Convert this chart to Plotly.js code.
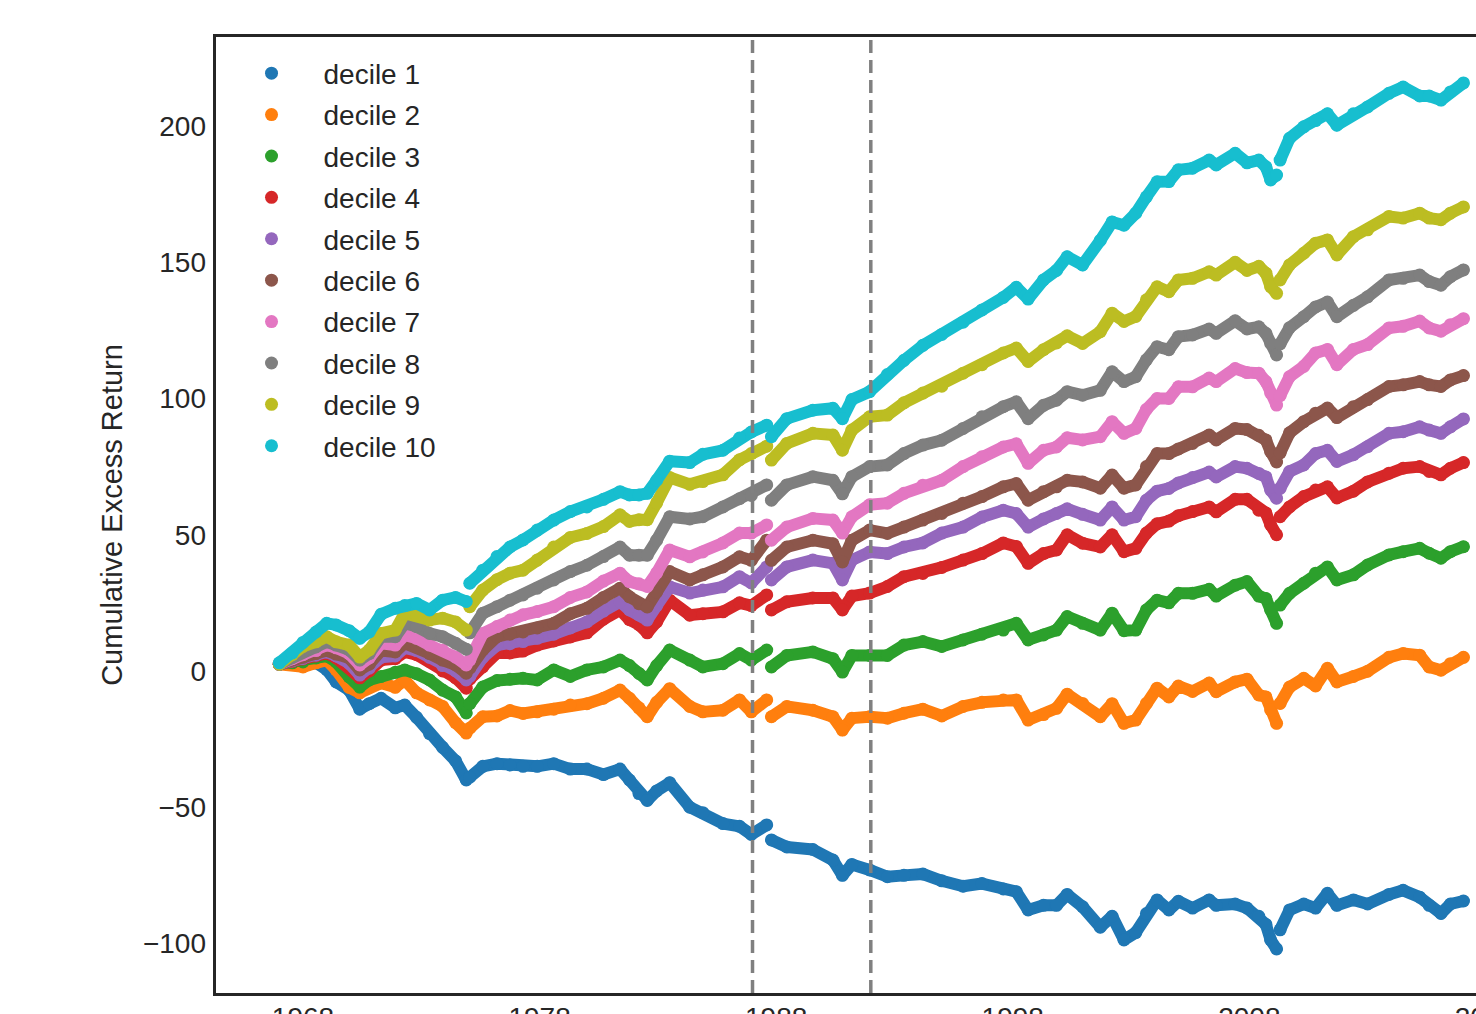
<!DOCTYPE html>
<html>
<head>
<meta charset="utf-8">
<script src="https://cdn.plot.ly/plotly-3.0.1.min.js"></script>
<style>
  html, body { margin: 0; padding: 0; overflow: hidden; background: #fff; }
  #chart { width: 1560px; height: 1060px; }
  .scatterlayer path.js-line { stroke-linejoin: round !important; stroke-linecap: round !important; }
</style>
</head>
<body>
<div id="chart"></div>
<script>
// Dates as decimal years (null rows mark jumps where the dots separate)
const years = [1967.0, 1967.55, 1968.0, 1968.55, 1969.0, 1969.4, 1969.95, 1970.4, 1970.8, 1971.3,
  1971.9, 1972.3, 1972.8, 1973.35, 1973.9, 1974.45, 1974.9, 1974.97, 1975.05, 1975.6,
  1976.2, 1976.75, 1977.3, 1977.9, 1978.6, 1979.3, 1980.0, 1980.7, 1981.4, 1981.8,
  1982.2, 1982.55, 1982.95, 1983.5, 1984.35, 1984.9, 1985.75, 1986.45, 1986.95, 1987.6,
  1987.7, 1987.8, 1988.45, 1989.55, 1990.4, 1990.8, 1991.2, 1991.95, 1992.7, 1993.4,
  1994.2, 1995.0, 1995.9, 1996.7, 1997.6, 1998.15, 1998.65, 1999.3, 1999.85, 2000.3,
  2000.95, 2001.7, 2002.2, 2002.7, 2003.2, 2003.65, 2004.1, 2004.6, 2005.0, 2005.6,
  2006.3, 2006.6, 2007.4, 2007.9, 2008.4, 2008.7, 2008.9, 2009.15, 2009.22, 2009.3,
  2009.7, 2010.3, 2010.8, 2011.3, 2011.7, 2012.4, 2013.0, 2013.9, 2014.5, 2015.2,
  2015.6, 2016.1, 2016.5, 2017.05];

const decile1 = [2.5, 3, 2, 3, 0.5, -4, -7, -14, -12, -10,
  -13.5, -12.5, -17, -23, -28, -33, -40, null, -39, -35,
  -34, -34.5, -35, -35, -34, -36, -36, -38, -36, -40,
  -45, -47.5, -44, -41, -50, -52, -56, -57, -60, -56.5,
  null, -62, -64.6, -65.5, -69.4, -75, -71, -73, -75.5, -75,
  -74.5, -77, -79, -78, -80, -81, -87.7, -86, -86, -82,
  -86.5, -94, -90, -98.7, -96, -89, -84, -87.7, -84.5, -87,
  -84, -86, -85.5, -87, -90, -93, -98.7, -102, null, -95,
  -87.7, -85.5, -87, -81.6, -86, -84, -85.5, -82, -80.5, -83,
  -86, -89, -85.5, -84.4];
const decile2 = [2.5, 2.5, 1.5, 3, 4, 0.4, -6, -8, -6, -4.4,
  -6, -3.3, -8, -10.6, -13, -19, -22.8, null, -21, -16.8,
  -16.5, -14.5, -15.6, -15, -14, -12.5, -12, -10, -7, -10,
  -13.5, -16.8, -11.5, -6.5, -13, -15, -14.4, -10.6, -15, -10.6,
  null, -16.8, -13, -14.4, -16.8, -21.7, -17.3, -16.8, -17.3, -15.5,
  -14, -16.5, -13, -11.5, -10.6, -10.6, -18, -16, -13.7, -8.5,
  -11.9, -16.8, -12, -19.2, -18, -11.9, -6.3, -9.5, -5.5, -7.5,
  -4.4, -7.6, -4, -3, -8.8, -9.5, -14.3, -19.2, null, -11.9,
  -5.9, -2.7, -5.5, 1, -4, -2, -0.1, 5, 6.4, 5.8,
  1.5, 0.3, 2.7, 5];
const decile3 = [2.5, 3, 3.3, 4.8, 5.5, 3.3, -2.2, -5.9, -3.3, -2,
  -0.5, 0.4, -1, -3.3, -7, -9.5, -15.4, null, -12, -5.9,
  -3.5, -3, -2.7, -3.3, 0.4, -2, 0.4, 1.5, 4, 2,
  -0.9, -3.3, 2, 7.7, 4, 1.5, 2.7, 6.4, 4, 7.7,
  null, 1.5, 5.7, 7, 4.5, -0.4, 5.7, 5.7, 5.7, 9.5,
  10.8, 9, 11.4, 13.5, 15, 17.5, 11.4, 13.2, 15, 20,
  17.5, 15, 21.2, 14.8, 15, 22.4, 26, 25, 28.5, 28.5,
  30, 27.5, 31.5, 32.8, 27.5, 26.6, 22.4, 17.5, null, 24.2,
  28.5, 32.2, 35.9, 38.2, 33.4, 35.3, 38.9, 42.6, 43.8, 45,
  43.2, 41.4, 43.8, 45.6];
const decile4 = [2.5, 3.5, 4.4, 5.5, 6.5, 4.8, 1.5, -2.5, 0, 4,
  4.5, 7, 6, 3.5, 0, -2.5, -6.3, null, -3, 1.5,
  6.6, 6.6, 7.3, 9.5, 11, 12.5, 14, 19, 22.4, 18.8,
  17, 14, 18, 26, 20.5, 21, 21.7, 25, 24, 27.9,
  null, 22.4, 25.4, 26.8, 26.8, 22.4, 27.5, 28.6, 31, 34.6,
  35.8, 38, 40.7, 43.1, 47, 45.7, 39.5, 43.1, 44.4, 50,
  46.9, 45.5, 50, 43.8, 45, 50.6, 54, 55, 57, 58.5,
  60.2, 58.4, 63, 63, 59, 58, 53.6, 50, null, 56.6,
  60.2, 64, 66.4, 67.6, 63.5, 66, 69.4, 72.6, 74.4, 75,
  73.2, 72, 74.4, 76.5];
const decile5 = [2.5, 3.7, 4.6, 5.8, 7, 5.5, 2.8, -1.5, 1, 5,
  5.5, 8.5, 7.5, 5, 2, 0, -3.3, null, -2, 5,
  9.5, 10, 10.8, 12, 13.5, 15.8, 18, 22, 25.4, 22.4,
  20.6, 18.7, 24, 30.9, 28.6, 29.7, 30.9, 34.6, 32.3, 38.2,
  null, 33.4, 38.2, 40.7, 39.5, 33.4, 40.7, 43.7, 43.1, 45.5,
  47, 50.6, 52.8, 56.5, 59, 57.8, 52.8, 55.8, 57.8, 59.5,
  57.5, 55.4, 60.2, 55.4, 56.6, 62.7, 66, 67, 69, 71,
  73, 71.2, 75, 74.4, 72.5, 71.2, 66.4, 63.4, null, 67,
  73.2, 75.6, 79.8, 81, 76.9, 79.4, 82.3, 87.2, 87.8, 89.6,
  88.4, 87.2, 89.6, 92.5];
const decile6 = [2.5, 4, 5, 6.4, 7.5, 6.2, 4.8, 0.4, 2.5, 7.5,
  7, 10.2, 8.8, 6.4, 4, 2.2, -0.8, null, 1, 7.7,
  12.6, 13.5, 14.3, 15.8, 17.5, 21, 23, 27, 30.4, 27.2,
  24.7, 23.5, 29, 36.5, 33.4, 35.3, 38.2, 41.9, 40.6, 48,
  null, 40.6, 45.5, 48, 46.7, 40, 48, 51.7, 50.5, 52.8,
  55.4, 57.8, 61.6, 64, 67.6, 68.8, 62.7, 65.8, 67.6, 70,
  69.4, 67.1, 71.9, 67.1, 68.3, 75, 79.8, 79.8, 81.5, 83.5,
  86.6, 84.8, 89, 88.6, 86.5, 84.8, 80.5, 76.7, null, 80,
  87.4, 91.5, 94.6, 96.5, 93, 97, 99.6, 104.4, 105, 106.2,
  105, 104.4, 106.8, 108.4];
const decile7 = [2.5, 4.5, 6, 7.5, 9.5, 8.5, 6.4, 2.2, 4.8, 10.2,
  9.5, 13.2, 12, 9.5, 7.7, 5.1, 2.2, null, 4, 13.8,
  16.3, 18.7, 20.6, 21.8, 23.6, 27, 29, 33, 35.9, 32.8,
  32, 31, 36, 44.4, 41.9, 43.7, 47, 50.6, 50.6, 53.6,
  null, 48, 52.8, 56, 55.4, 50.6, 56.6, 61, 61.6, 65.2,
  68.2, 70, 75, 78.6, 82.2, 83.4, 76.2, 81, 82.2, 85.6,
  84.8, 86, 91.5, 87.2, 89, 96, 100, 100, 104.3, 104.3,
  107.5, 106.2, 111, 109.5, 109.3, 106.2, 102, 97.6, null, 101,
  108, 111.8, 116.7, 118, 112.4, 118, 119.8, 125.9, 126.5, 128.4,
  125.9, 124.7, 127.1, 129.3];
const decile8 = [2.5, 5, 7, 8.8, 10.7, 9.5, 7.7, 4, 6.4, 12.6,
  12.6, 17.5, 16.3, 13.8, 12.6, 10.2, 8, null, 14, 21.2,
  23.6, 26, 27.9, 30.4, 33.4, 36.5, 38.8, 42, 45.5, 42.5,
  42.5, 42.5, 48, 56.6, 55.8, 56.6, 60.2, 63.2, 64.4, 68.3,
  null, 62.7, 68.3, 71.3, 70, 65, 71.3, 75, 75.6, 79.8,
  82.9, 84.7, 89, 93.3, 97, 98.8, 92.6, 97.5, 99.4, 102.5,
  101.2, 103, 109.8, 106.2, 108, 114.2, 119, 117.9, 122.7, 123.3,
  125.5, 123.9, 128.5, 125.5, 126.3, 123.9, 120.2, 116, null, 120,
  126, 130, 133.6, 135.4, 130, 134.2, 137.3, 143.5, 144.1, 145.3,
  142.9, 141.6, 144.7, 147.2];
const decile9 = [2.5, 6, 9, 10.7, 12.6, 10.7, 9.5, 5.1, 7.7, 13.8,
  15, 21.2, 20.5, 18.7, 19.4, 18, 15, null, 23.6, 29.7,
  33.5, 35.9, 37, 40.7, 45.5, 49, 50.5, 53, 57.3, 54.9,
  55.5, 55.5, 61.7, 71, 68.5, 69.5, 72, 77.5, 79.8, 82.5,
  null, 77.4, 83.5, 87.2, 86.6, 81, 88.4, 93.3, 93.9, 98.4,
  102, 104.5, 109.3, 112.4, 116.7, 118.5, 113.6, 117.9, 120.4, 123,
  120.2, 124.5, 131.3, 128.3, 130.1, 136.2, 141, 139.2, 143.5, 144.1,
  146.5, 145.3, 150, 147, 148.5, 146, 141, 138.6, null, 143.5,
  149, 153.3, 157, 158.2, 152.7, 159.4, 161.9, 166.8, 166.2, 168,
  166.2, 165.6, 168, 170.3];
const decile10 = [3, 6.6, 10.5, 14.3, 17.5, 16.9, 14.8, 12, 14.3, 20.8,
  23, 24, 24.8, 22.4, 26, 27, 25.5, null, 32.2, 37,
  42, 45.5, 48.1, 51.7, 55.4, 58.5, 60.2, 63, 65.8, 64.6,
  64.6, 65.2, 70, 77, 76.5, 79.5, 81, 85.5, 87.7, 90.2,
  null, 86, 92.6, 95.7, 96.4, 92.6, 99.6, 102.5, 108.8, 114,
  119.5, 123.5, 128, 132.5, 137.1, 140.8, 136.5, 143.5, 147, 152,
  149, 158, 164.8, 163.6, 168, 174, 179.5, 179.6, 183.9, 184.5,
  187.5, 185.7, 190, 186.5, 187.5, 185, 180.2, 182, null, 187.5,
  195.5, 199.7, 202, 204.5, 200.3, 204.5, 207, 212, 214.3, 211,
  211, 209.5, 212.5, 215.8];

const seriesNames = ['decile 1','decile 2','decile 3','decile 4','decile 5',
                     'decile 6','decile 7','decile 8','decile 9','decile 10'];
const seriesValues = [decile1, decile2, decile3, decile4, decile5,
                      decile6, decile7, decile8, decile9, decile10];
const seriesColors = ['#1f77b4','#ff7f0e','#2ca02c','#d62728','#9467bd',
                      '#8c564b','#e377c2','#7f7f7f','#bcbd22','#17becf'];

const xTickVals = [1968, 1978, 1988, 1998, 2008, 2018];
const xTickText = ['1968', '1978', '1988', '1998', '2008', '2018'];
const yTickVals = [-100, -50, 0, 50, 100, 150, 200];
const yTickText = ['\u2212100', '\u221250', '0', '50', '100', '150', '200'];
const markerYears = [1987.0, 1992.0];

const FONT = 'Liberation Sans, Arial, Helvetica, sans-serif';
const INK = '#262626';

const traces = [];
seriesValues.forEach((vals, i) => {
  traces.push({
    type: 'scatter', mode: 'lines', x: years, y: vals,
    line: {color: seriesColors[i], width: 12},
    connectgaps: false, showlegend: false, legendgroup: 'g' + i, hoverinfo: 'skip'
  });
  traces.push({
    type: 'scatter', mode: 'markers', x: years, y: vals, name: seriesNames[i],
    marker: {color: seriesColors[i], size: 13, line: {width: 0}},
    legendgroup: 'g' + i, hoverinfo: 'skip'
  });
});

const shapes = markerYears.map(yr => ({
  type: 'line', xref: 'x', yref: 'paper', x0: yr, x1: yr, y0: 0, y1: 1,
  line: {color: '#808080', width: 3.5, dash: '13px,7px'}, layer: 'above'
}));

const layout = {
  width: 1560, height: 1060,
  margin: {l: 216, r: 40, t: 37, b: 67},
  paper_bgcolor: '#ffffff', plot_bgcolor: '#ffffff',
  font: {family: FONT, size: 28, color: INK},
  showlegend: true,
  legend: {
    x: 0.0027, y: 0.988, xanchor: 'left', yanchor: 'top',
    bgcolor: 'rgba(0,0,0,0)', borderwidth: 0,
    font: {family: FONT, size: 28, color: INK},
    itemwidth: 94, tracegroupgap: 2, traceorder: 'grouped'
  },
  xaxis: {
    range: [1964.323, 2019.44], tickvals: xTickVals, ticktext: xTickText,
    showgrid: false, zeroline: false, showline: true, mirror: true,
    linecolor: INK, linewidth: 3.4, ticks: '', ticklabelstandoff: -3,
    tickfont: {family: FONT, size: 28, color: INK}
  },
  yaxis: {
    range: [-118.17, 232.66], tickvals: yTickVals, ticktext: yTickText,
    showgrid: false, zeroline: false, showline: true, mirror: false,
    linecolor: INK, linewidth: 3.4, ticks: '', ticklabelstandoff: 1,
    tickfont: {family: FONT, size: 28, color: INK},
    title: {text: 'Cumulative Excess Return', standoff: 12,
            font: {family: FONT, size: 29, color: INK}}
  },
  shapes: shapes
};

Plotly.newPlot('chart', traces, layout, {displayModeBar: false, staticPlot: true});
</script>
</body>
</html>
